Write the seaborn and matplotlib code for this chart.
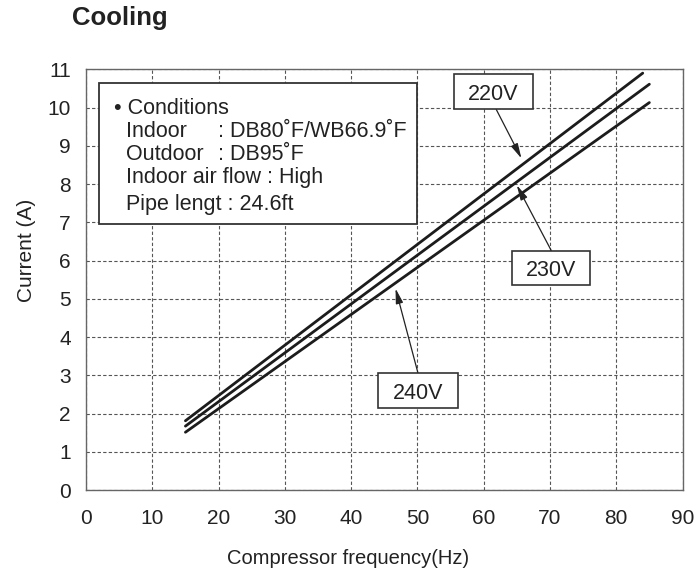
import pandas as pd
import matplotlib
matplotlib.use("Agg")
import matplotlib.pyplot as plt
import seaborn as sns

# values
freq_220 = [15, 84]
cur_220 = [1.81, 10.9]
freq_230 = [15, 85]
cur_230 = [1.67, 10.61]
freq_240 = [15, 85]
cur_240 = [1.51, 10.13]
voltages = ["220V", "230V", "240V"]

x_ticks = list(range(0, 91, 10))
y_ticks = list(range(0, 12))

condition_lines = [
    ("Indoor", ": DB80˚F/WB66.9˚F"),
    ("Outdoor", ": DB95˚F"),
    ("Indoor air flow : High", ""),
    ("Pipe lengt : 24.6ft", ""),
]


def build_frame():
    rows = []
    for v, xs, ys in zip(voltages, [freq_220, freq_230, freq_240], [cur_220, cur_230, cur_240]):
        for x, y in zip(xs, ys):
            rows.append({"Frequency": x, "Current": y, "Voltage": v})
    return pd.DataFrame(rows)


def draw(df):
    sns.set_style("white")
    plt.rcParams["font.family"] = ["Liberation Sans", "DejaVu Sans"]

    fig = plt.figure(figsize=(6.97, 5.75), dpi=100)
    ax = fig.add_axes([86 / 697, 1 - 490 / 575, (682.5 - 86) / 697, (490 - 69.3) / 575])

    sns.lineplot(data=df, x="Frequency", y="Current", hue="Voltage",
                 palette={v: "#1c1c1c" for v in voltages}, linewidth=2.0,
                 legend=False, ax=ax, zorder=3)

    ax.set_xlim(0, 90)
    ax.set_ylim(0, 11)
    ax.set_xticks(x_ticks)
    ax.set_yticks(y_ticks)
    ax.tick_params(length=0, labelsize=15, colors="#222222")
    ax.tick_params(axis="x", pad=14)
    ax.tick_params(axis="y", pad=11)
    ax.grid(True, linestyle=(0, (3, 2)), color="#555555", linewidth=0.8)
    for s in ax.spines.values():
        s.set_color("#666666")
        s.set_linewidth(1.0)

    ax.set_xlabel("Compressor frequency(Hz)", fontsize=14.5, color="#222222")
    ax.set_ylabel("Current (A)", fontsize=15, color="#222222")
    ax.xaxis.set_label_coords(0.44, -0.14)
    ax.yaxis.set_label_coords(-0.083, 0.57)

    fig.text(72 / 697, 1 - 25 / 575, "Cooling", fontsize=18.5, weight="bold",
             color="#222222", va="baseline")

    # conditions box
    ax.add_patch(plt.Rectangle((1.96, 6.95), 49.9 - 1.96, 10.65 - 6.95,
                               fc="white", ec="#333333", lw=1.3, zorder=4))
    ax.text(4.3, 9.83, "• Conditions", fontsize=15.5, color="#222222", zorder=5)
    ys = [9.22, 8.63, 8.03, 7.32]
    for (left, right), y in zip(condition_lines, ys):
        ax.text(6.1, y, left, fontsize=15.5, color="#222222", zorder=5)
        if right:
            ax.text(19.9, y, right, fontsize=15.5, color="#222222", zorder=5)

    # voltage labels: box (x0, x1, y0, y1), arrow start, arrow tip
    labels = {
        "220V": ((55.5, 67.4, 9.95, 10.88), (61.9, 9.95), (65.7, 8.67)),
        "230V": ((64.2, 76.1, 5.36, 6.26), (70.2, 6.26), (65.0, 7.97)),
        "240V": ((44.1, 56.1, 2.14, 3.05), (50.1, 3.05), (46.7, 5.27)),
    }
    for name, (box, start, tip) in labels.items():
        ax.annotate("", xy=tip, xytext=start,
                    arrowprops=dict(arrowstyle="-|>,head_length=0.9,head_width=0.22",
                                    color="#222222", lw=0.9, shrinkA=0, shrinkB=0),
                    zorder=5)
        x0, x1, y0, y1 = box
        ax.add_patch(plt.Rectangle((x0, y0), x1 - x0, y1 - y0, fc="white",
                                   ec="#333333", lw=1.2, zorder=6))
        ax.text((x0 + x1) / 2, (y0 + y1) / 2, name, fontsize=15.5, color="#222222",
                ha="center", va="center_baseline", zorder=7)

    fig.savefig("out.png", dpi=100)


if __name__ == "__main__":
    draw(build_frame())
